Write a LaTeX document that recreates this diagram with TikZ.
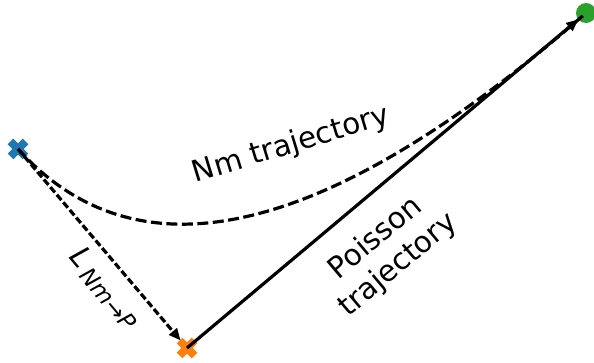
\documentclass[tikz,border=0pt]{standalone}
\usepackage{fontspec}
\setmainfont{DejaVu Sans}
\usepackage{tikz}
\usetikzlibrary{arrows.meta, positioning, calc, shapes.misc}

\definecolor{tabblue}{HTML}{1F77B4}
\definecolor{taborange}{HTML}{FF7F0E}
\definecolor{tabgreen}{HTML}{2CA02C}

\begin{document}
\begin{tikzpicture}[x=1pt, y=-1pt, every node/.style={font=\fontsize{29.5}{35}\selectfont},
    xmark/.style={cross out, draw, line width=8pt, minimum size=15pt, inner sep=0pt, outer sep=0pt},
    dot/.style={circle, fill=tabgreen, minimum size=20pt, inner sep=0pt, outer sep=0pt},
    traj/.style={line width=3.2pt, -{Triangle[length=12pt, width=10pt]}}]
  \useasboundingbox (0,0) rectangle (594,363);
  % start, end and target points
  \node[xmark, draw=tabblue]   (nm)  at (18,149) {};
  \node[xmark, draw=taborange] (poi) at (187,348) {};
  \node[dot]                   (tgt) at (586,13) {};
  % trajectories
  \draw[line width=3.2pt, dash pattern=on 11pt off 4.5pt]
    (nm.center) .. controls (139,283) and (328,238) .. (tgt.center);
  \draw[traj, dash pattern=on 7pt off 3pt] (nm.center) -- (poi);
  \draw[traj] (poi.center) -- (tgt);
  % labels
  \node[rotate=17] (nmlbl) at (291,145) {Nm trajectory};
  \node[rotate=40, align=center] (poilbl) at (387,252) {Poisson\\trajectory};
  \node[rotate=-50] (loss) at (105,288)
    {\itshape L\,\raisebox{-0.3ex}{\fontsize{23}{23}\selectfont Nm{\upshape →}P}};
\end{tikzpicture}
\end{document}
